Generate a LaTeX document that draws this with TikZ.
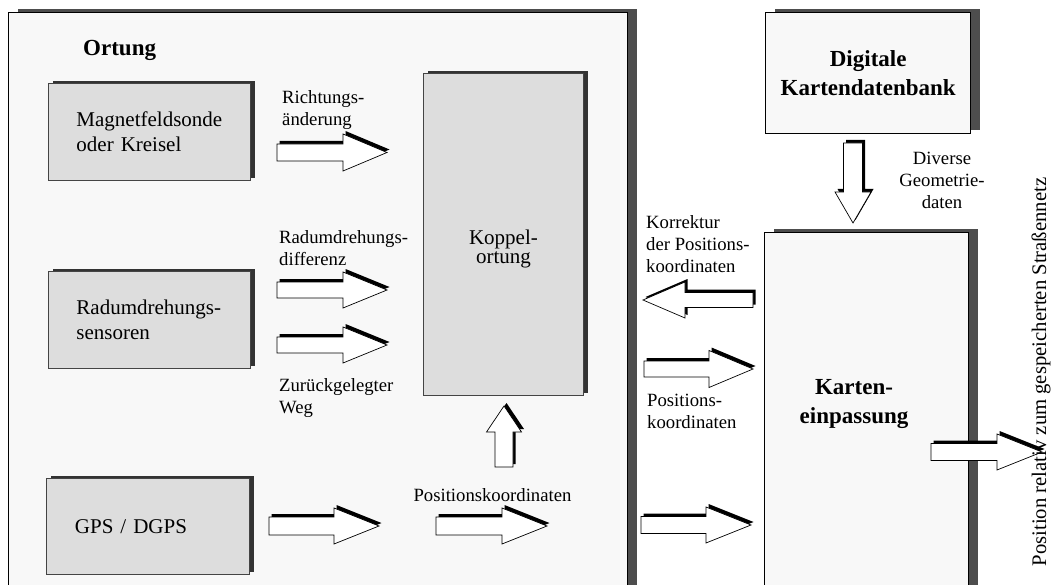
\documentclass[tikz,border=0pt]{standalone}
\usepackage{fontspec}
\setmainfont{Liberation Serif}
\usetikzlibrary{shadows}
\definecolor{framefill}{HTML}{F8F8F8}
\definecolor{boxfill}{HTML}{DDDDDD}
\definecolor{frameshadow}{HTML}{4D4D4D}
\definecolor{boxshadow}{HTML}{333333}
\definecolor{boxline}{HTML}{444444}

% Hollow block arrow with a black offset shadow.
% #1,#2 tail centre; #3 direction; #4 length; #5 head length;
% #6 half shaft width; #7 half head width
\newcommand\blockarrow[7]{%
  \fill[black, shift={(#1+2.5,#2-3)}, rotate=#3]
    (0,-#6) -- (#4-#5,-#6) -- (#4-#5,-#7) -- (#4,0) -- (#4-#5,#7)
    -- (#4-#5,#6) -- (0,#6) -- cycle;
  \filldraw[fill=white, draw=black, line width=0.7pt, shift={(#1,#2)}, rotate=#3]
    (0,-#6) -- (#4-#5,-#6) -- (#4-#5,-#7) -- (#4,0) -- (#4-#5,#7)
    -- (#4-#5,#6) -- (0,#6) -- cycle;
}

\begin{document}
\begin{tikzpicture}[x=1pt, y=-1pt,
  bigframe/.style={draw=black, line width=1.4pt, fill=framefill,
    rectangle, anchor=north west, inner sep=0pt,
    drop shadow={shadow xshift=9pt, shadow yshift=4pt, opacity=1, fill=frameshadow}},
  graybox/.style={draw=boxline, line width=0.9pt, fill=boxfill,
    rectangle, anchor=north west, inner sep=0pt, align=left, text width=146pt,
    font=\fontsize{21}{25.5}\selectfont,
    drop shadow={shadow xshift=5pt, shadow yshift=2.5pt, opacity=1, fill=boxshadow}},
  lbl/.style={inner sep=0pt, align=left, font=\fontsize{18.7}{22}\selectfont},
  boxtext/.style={inner sep=0pt, align=center, font=\fontsize{21}{19}\selectfont},
  boldtext/.style={inner sep=0pt, align=center, font=\bfseries\fontsize{23}{28.5}\selectfont}]

\useasboundingbox (0,0) rectangle (1062,585);
\fill[white] (0,0) rectangle (1062,585);
\clip (0,0) rectangle (1062,585);

% outer frames
\node[bigframe, minimum width=619pt, minimum height=600pt] (ortung) at (8,12) {};
\node[bigframe, minimum width=205pt, minimum height=121pt, boldtext] (db) at (765,12)
  {Digitale\\Kartendatenbank};
\node[bigframe, minimum width=204pt, minimum height=380pt] (karte) at (764,232) {};

\node[boldtext, anchor=base west] (ortungtitle) at (83,56) {Ortung};
\node[boldtext] (kartetext) at (854,404) {Karten-\\einpassung};

% sensor boxes
\node[graybox, minimum width=202pt, minimum height=97pt] (mag) at (48,83)
  {Magnetfeldsonde\\oder Kreisel};
\node[graybox, minimum width=202pt, minimum height=97pt] (rad) at (48,271)
  {Radumdrehungs-\\sensoren};
\node[graybox, minimum width=203pt, minimum height=96pt] (gps) at (46,478)
  {GPS / DGPS};
\node[graybox, minimum width=160pt, minimum height=322pt] (koppel) at (423,73) {};
\node[boxtext] (koppeltext) at ([yshift=-15pt]koppel.center) {Koppel-\\ortung};

% block arrows
\blockarrow{277}{152.5}{0}{110}{44}{8.5}{18.5}
\blockarrow{277}{290}{0}{110}{44}{8}{18}
\blockarrow{277}{345}{0}{110}{44}{8}{18}
\blockarrow{269}{526}{0}{110}{45}{9}{18}
\blockarrow{436}{526}{0}{111}{45}{9}{18}
\blockarrow{504}{467}{90}{61}{26}{9}{17.5}
\blockarrow{753}{300}{180}{110}{42}{7.5}{18}
\blockarrow{644}{369}{0}{109}{44}{8}{18.5}
\blockarrow{641}{525}{0}{110}{45}{8.5}{18}
\blockarrow{853}{143}{-90}{80}{31}{9.5}{18}
\blockarrow{931}{452}{0}{111}{45}{8.5}{18}

% arrow labels
\node[lbl, anchor=west] (lrichtung) at (282,110.5) {Richtungs-\\änderung};
\node[lbl, anchor=west] (ldiff) at (279,248) {Radumdrehungs-\\differenz};
\node[lbl, anchor=west] (lweg) at (279,398.5) {Zurückgelegter\\Weg};
\node[lbl] (lpos) at (492.5,495) {Positionskoordinaten};
\node[lbl, anchor=west] (lkorr) at (646,244) {Korrektur\\der Positions-\\koordinaten};
\node[lbl, anchor=west] (lpos2) at (647,411.5) {Positions-\\koordinaten};
\node[lbl, align=center] (lgeo) at (942,180) {Diverse\\Geometrie-\\daten};
\node[inner sep=0pt, font=\fontsize{20.7}{24}\selectfont, rotate=90] (lout) at (1041,372)
  {Position relativ zum gespeicherten Straßennetz};
\end{tikzpicture}
\end{document}
